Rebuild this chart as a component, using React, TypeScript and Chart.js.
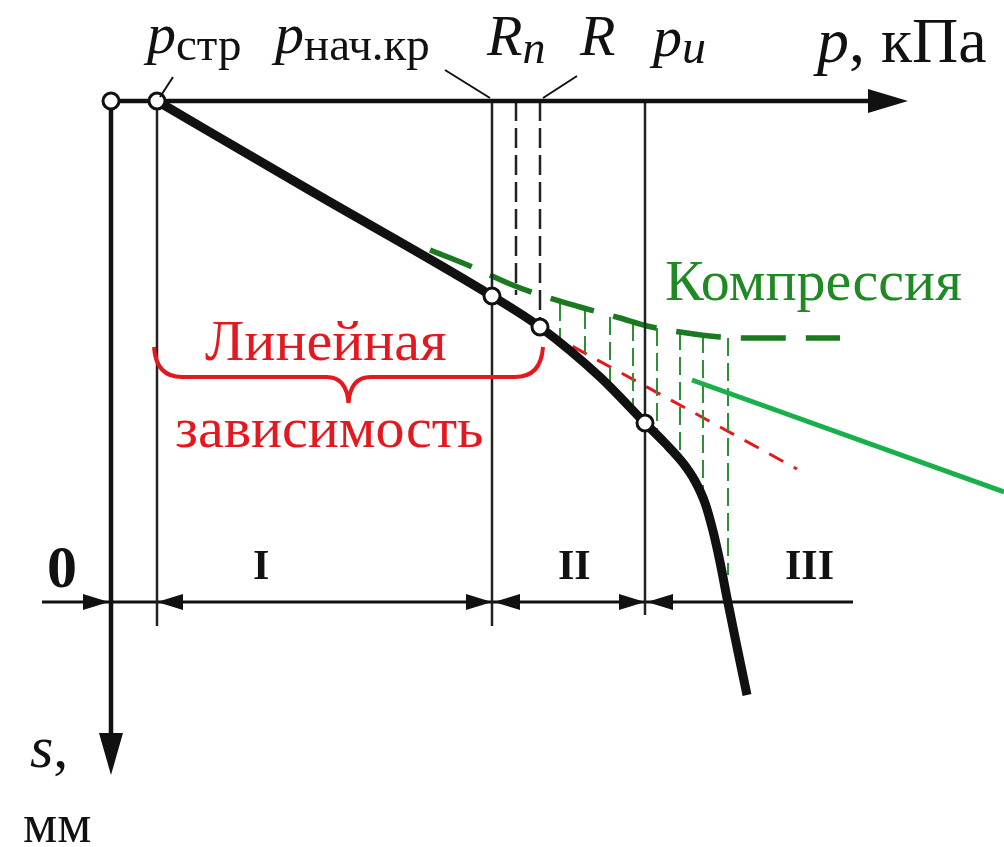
import { useEffect, useRef } from "react";
import { Chart, registerables } from "chart.js";

Chart.register(...registerables);

// Settlement curve s = f(p): load p, kPa (to the right) and settlement s, mm (downward)
const curveP = [46, 200, 381, 429, 489, 534, 554, 572, 584, 594, 602, 609, 616, 626, 636];
const curveS = [0, 90, 195, 226, 276, 322, 342, 362, 380, 402, 430, 461, 497, 546, 594];

// Characteristic loads on the p axis
const pStr = 46; // p_стр
const pNachKr = 381; // p_нач.кр
const pRn = 405; // R_n
const pR = 429; // R
const pU = 534; // p_u

// Settlements at the marked points
const sNachKr = 195;
const sRn = 194;
const sR = 226;
const sU = 322;

// Compression curve
const compP = [319, 359, 399, 429, 469, 509, 536, 569, 609, 649, 729];
const compS = [149, 165, 183, 194, 206, 217, 225, 231, 236, 237, 237];

// Hatching between the compression curve and the settlement curve
const hatchP = [449, 474, 499, 522, 546, 569, 592, 617];
const hatchTop = [202, 210, 216, 222, 227, 231, 234, 237];
const hatchBottom = [244, 264, 286, 309, 333, 358, 397, 474];

// Continuation of the linear part
const tangentP = [437, 686];
const tangentS = [232, 368];

// Pointer line
const pointerP = [581, 893];
const pointerS = [279, 391];

// Axis extents
const pAxisMax = 797;
const sAxisMax = 674;

// Zones along the dimension line
const zoneNames = ["I", "II", "III"];
const zoneLabelP = [142, 447, 674];
const dimS = 501;
const dimFrom = -69;
const dimTo = 742;
const boundaryP = [pStr, pNachKr, pU];
const boundaryBottom = [525, 525, 514];

const SERIF = "'Liberation Serif', 'Times New Roman', serif";
const BLACK = "#111111";
const RED = "#e3191f";
const GREEN_TEXT = "#1f8a24";
const GREEN_DASH = "#1b7a1f";
const GREEN_HATCH = "#2f8f34";
const GREEN_POINTER = "#19b04b";

type Part = [string, string, number?];
type Label = { x: number; y: number; color: string; parts: Part[] };

const labels: Label[] = [
  { x: 36, y: -48, color: BLACK, parts: [["p", `italic 58px ${SERIF}`], ["стр", `47px ${SERIF}`, 7]] },
  { x: 164, y: -48, color: BLACK, parts: [["p", `italic 58px ${SERIF}`], ["нач.кр", `47px ${SERIF}`, 7]] },
  { x: 376, y: -46, color: BLACK, parts: [["R", `italic 58px ${SERIF}`], ["n", `italic 46px ${SERIF}`, 8]] },
  { x: 469, y: -46, color: BLACK, parts: [["R", `italic 58px ${SERIF}`]] },
  { x: 542, y: -45, color: BLACK, parts: [["p", `italic 58px ${SERIF}`], ["u", `italic 48px ${SERIF}`, 7]] },
  { x: 706, y: -39, color: BLACK, parts: [["p", `italic 64px ${SERIF}`], [", кПа", `64px ${SERIF}`]] },
  { x: 554, y: 199, color: GREEN_TEXT, parts: [["Компрессия", `58px ${SERIF}`]] },
  { x: 94, y: 259, color: RED, parts: [["Линейная", `58px ${SERIF}`]] },
  { x: 64, y: 346, color: RED, parts: [["зависимость", `58px ${SERIF}`]] },
  { x: -64, y: 486, color: BLACK, parts: [["0", `bold 60px ${SERIF}`]] },
  { x: -81, y: 666, color: BLACK, parts: [["s", `italic 60px ${SERIF}`], [",", `60px ${SERIF}`]] },
  { x: -88, y: 741, color: BLACK, parts: [["мм", `54px ${SERIF}`]] },
];

// Leader lines from the labels to the axis
const leaders = [
  [62, -24, 49, -4],
  [334, -31, 379, -3],
  [466, -25, 432, -3],
];

const pts = (xs: number[], ys: number[]) => xs.map((x, i) => ({ x, y: ys[i] }));

const line = (data: { x: number; y: number }[], color: string, width: number, dash: number[] = [], extra = {}) => ({
  type: "scatter" as const,
  data,
  showLine: true,
  borderColor: color,
  borderWidth: width,
  borderDash: dash,
  pointRadius: 0,
  borderCapStyle: "butt" as const,
  ...extra,
});

function arrowHead(ctx: CanvasRenderingContext2D, tx: number, ty: number, dx: number, dy: number, len: number, half: number) {
  const bx = tx - dx * len;
  const by = ty - dy * len;
  ctx.beginPath();
  ctx.moveTo(tx, ty);
  ctx.lineTo(bx - dy * half, by + dx * half);
  ctx.lineTo(bx + dy * half, by - dx * half);
  ctx.closePath();
  ctx.fill();
}

const decor = {
  id: "decor",
  afterDatasetsDraw(chart: any) {
    const { ctx, scales } = chart;
    const X = (v: number) => scales.x.getPixelForValue(v);
    const Y = (v: number) => scales.y.getPixelForValue(v);
    ctx.save();

    // axis arrowheads
    ctx.fillStyle = BLACK;
    arrowHead(ctx, X(pAxisMax), Y(0), 1, 0, 40, 12);
    arrowHead(ctx, X(0), Y(sAxisMax), 0, 1, 42, 12);

    // dimension arrows
    const dy = Y(dimS);
    arrowHead(ctx, X(0) - 2, dy, 1, 0, 26, 8);
    arrowHead(ctx, X(pStr), dy, -1, 0, 26, 8);
    arrowHead(ctx, X(pNachKr), dy, 1, 0, 26, 8);
    arrowHead(ctx, X(pNachKr) + 2, dy, -1, 0, 26, 8);
    arrowHead(ctx, X(pU), dy, 1, 0, 26, 8);
    arrowHead(ctx, X(pU) + 2, dy, -1, 0, 26, 8);

    // leader lines
    ctx.strokeStyle = BLACK;
    ctx.lineWidth = 2;
    for (const [x1, y1, x2, y2] of leaders) {
      ctx.beginPath();
      ctx.moveTo(X(x1), Y(y1));
      ctx.lineTo(X(x2), Y(y2));
      ctx.stroke();
    }

    // brace under "Линейная"
    const L = X(pStr) - 3;
    const R = X(pR) + 3;
    const C = (L + R) / 2;
    const top = Y(246);
    const mid = Y(276);
    const tip = Y(302);
    ctx.strokeStyle = RED;
    ctx.lineWidth = 4;
    ctx.beginPath();
    ctx.moveTo(L, top);
    ctx.quadraticCurveTo(L + 2, mid, L + 28, mid);
    ctx.lineTo(C - 22, mid);
    ctx.quadraticCurveTo(C - 2, mid, C, tip);
    ctx.quadraticCurveTo(C + 2, mid, C + 22, mid);
    ctx.lineTo(R - 28, mid);
    ctx.quadraticCurveTo(R - 2, mid, R, top);
    ctx.stroke();

    // labels
    ctx.textBaseline = "alphabetic";
    ctx.textAlign = "left";
    for (const lab of labels) {
      let px = X(lab.x);
      const py = Y(lab.y);
      ctx.fillStyle = lab.color;
      for (const [text, font, off] of lab.parts) {
        ctx.font = font;
        ctx.fillText(text, px, py + (off ?? 0));
        px += ctx.measureText(text).width;
      }
    }
    zoneNames.forEach((name, i) => {
      ctx.font = `bold 42px ${SERIF}`;
      ctx.fillStyle = BLACK;
      ctx.fillText(name, X(zoneLabelP[i]), Y(478));
    });

    ctx.restore();
  },
};

export default function App() {
  const ref = useRef<HTMLCanvasElement | null>(null);

  useEffect(() => {
    if (!ref.current) return;

    const datasets: any[] = [
      {
        type: "scatter",
        data: pts([0, pStr, pNachKr, pR, pU], [0, 0, sNachKr, sR, sU]),
        showLine: false,
        pointRadius: 8,
        pointBackgroundColor: "#ffffff",
        pointBorderColor: BLACK,
        pointBorderWidth: 3,
      },
      line(pts(curveP, curveS), BLACK, 9, [], { cubicInterpolationMode: "monotone" }),
      line(pts(pointerP, pointerS), GREEN_POINTER, 5),
      line(pts([0, pAxisMax - 20], [0, 0]), BLACK, 4.5),
      line(pts([0, 0], [0, sAxisMax - 20]), BLACK, 4.5),
      ...boundaryP.map((p, i) => line(pts([p, p], [0, boundaryBottom[i]]), "#222222", 2.5)),
      line(pts([pRn, pRn], [0, sRn]), "#222222", 2.5, [20, 7]),
      line(pts([pR, pR], [0, sR]), "#222222", 2.5, [20, 7]),
      line(pts(compP, compS), GREEN_DASH, 5.5, [45, 20], { cubicInterpolationMode: "monotone" }),
      ...hatchP.map((p, i) => line(pts([p, p], [hatchTop[i], hatchBottom[i]]), GREEN_HATCH, 2, [18, 7])),
      line(pts(tangentP, tangentS), RED, 3, [16, 12]),
      line(pts([dimFrom, dimTo], [dimS, dimS]), BLACK, 3),
    ];

    const chart = new Chart(ref.current, {
      type: "scatter",
      data: { datasets },
      options: {
        animation: false,
        responsive: false,
        devicePixelRatio: 1,
        layout: { padding: 0, autoPadding: false },
        plugins: { legend: { display: false }, tooltip: { enabled: false } },
        events: [],
        scales: {
          x: { type: "linear", min: -111, max: 893, display: false },
          y: { type: "linear", min: -101, max: 746, reverse: true, display: false },
        },
      },
      plugins: [decor],
    });
    return () => chart.destroy();
  }, []);

  return (
    <div style={{ position: "fixed", left: 0, top: 0, width: 1004, height: 847, background: "#fff" }}>
      <canvas ref={ref} width={1004} height={847} style={{ display: "block" }} />
    </div>
  );
}
